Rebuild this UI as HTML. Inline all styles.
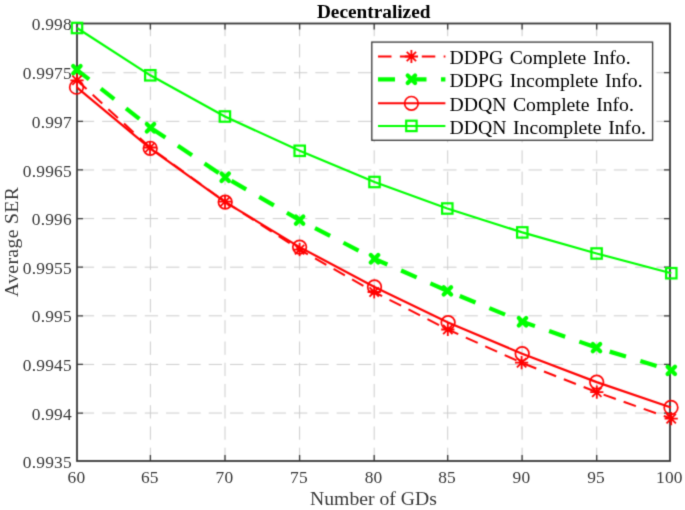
<!DOCTYPE html>
<html><head><meta charset="utf-8"><style>
html,body{margin:0;padding:0;background:#fff;width:685px;height:510px;overflow:hidden}
svg{display:block}

text{font-family:"Liberation Serif",serif}
</style></head><body>
<div id="w"><svg width="685" height="510" viewBox="0 0 685 510"><defs><filter id="bl" filterUnits="userSpaceOnUse" x="0" y="0" width="685" height="510" color-interpolation-filters="sRGB"><feConvolveMatrix order="3" kernelMatrix="1 4 1 4 16 4 1 4 1" divisor="36" edgeMode="duplicate"/></filter><filter id="bt" filterUnits="userSpaceOnUse" x="0" y="0" width="685" height="510" color-interpolation-filters="sRGB"><feConvolveMatrix order="3" kernelMatrix="1 6 1 6 36 6 1 6 1" divisor="64" edgeMode="none"/></filter></defs><g filter="url(#bl)"><rect width="685" height="510" fill="#fff"/><g stroke="#cccccc" stroke-width="1.0" stroke-dasharray="13.3 8.02" fill="none"><line x1="77" y1="72.72" x2="670.0" y2="72.72" stroke-dashoffset="-3.8"/><line x1="77" y1="121.34" x2="670.0" y2="121.34" stroke-dashoffset="-3.8"/><line x1="77" y1="169.96" x2="670.0" y2="169.96" stroke-dashoffset="-3.8"/><line x1="77" y1="218.58" x2="670.0" y2="218.58" stroke-dashoffset="-3.8"/><line x1="77" y1="267.20" x2="670.0" y2="267.20" stroke-dashoffset="-3.8"/><line x1="77" y1="315.82" x2="670.0" y2="315.82" stroke-dashoffset="-3.8"/><line x1="77" y1="364.44" x2="670.0" y2="364.44" stroke-dashoffset="-3.8"/><line x1="77" y1="413.06" x2="670.0" y2="413.06" stroke-dashoffset="-3.8"/><line x1="150.40" y1="461.0" x2="150.40" y2="23.5" stroke-dashoffset="0" stroke-dasharray="13.3 7.94"/><line x1="225.00" y1="461.0" x2="225.00" y2="23.5" stroke-dashoffset="0" stroke-dasharray="13.3 7.94"/><line x1="299.60" y1="461.0" x2="299.60" y2="23.5" stroke-dashoffset="0" stroke-dasharray="13.3 7.94"/><line x1="374.20" y1="461.0" x2="374.20" y2="23.5" stroke-dashoffset="0" stroke-dasharray="13.3 7.94"/><line x1="447.70" y1="461.0" x2="447.70" y2="23.5" stroke-dashoffset="0" stroke-dasharray="13.3 7.94"/><line x1="522.10" y1="461.0" x2="522.10" y2="23.5" stroke-dashoffset="0" stroke-dasharray="13.3 7.94"/><line x1="596.70" y1="461.0" x2="596.70" y2="23.5" stroke-dashoffset="0" stroke-dasharray="13.3 7.94"/></g><path d="M150.40,461.0V455.0M150.40,23.5V29.5M225.00,461.0V455.0M225.00,23.5V29.5M299.60,461.0V455.0M299.60,23.5V29.5M374.20,461.0V455.0M374.20,23.5V29.5M447.70,461.0V455.0M447.70,23.5V29.5M522.10,461.0V455.0M522.10,23.5V29.5M596.70,461.0V455.0M596.70,23.5V29.5M77,72.72H83M670.0,72.72H664.0M77,121.34H83M670.0,121.34H664.0M77,169.96H83M670.0,169.96H664.0M77,218.58H83M670.0,218.58H664.0M77,267.20H83M670.0,267.20H664.0M77,315.82H83M670.0,315.82H664.0M77,364.44H83M670.0,364.44H664.0M77,413.06H83M670.0,413.06H664.0" stroke="#363636" stroke-width="1.3" fill="none"/><rect x="77" y="23.5" width="593.00" height="437.50" stroke="#363636" stroke-width="1.8" fill="none"/><polyline points="77.00,28.00 150.30,75.30 224.90,116.50 299.70,150.80 374.50,182.00 447.30,208.50 522.30,232.40 596.60,253.50 671.30,273.20" stroke="#00ff00" stroke-width="2.2" fill="none"/><polyline points="76.90,69.80 150.50,127.70 225.20,177.30 299.60,220.10 374.50,258.80 447.40,290.90 522.50,321.80 596.50,347.60 671.30,370.40" stroke="#00ff00" stroke-width="4.2" fill="none" stroke-dasharray="17 15" stroke-dashoffset="1.5"/><polyline points="76.50,87.20 150.20,148.30 225.20,202.10 299.60,247.10 374.50,287.00 448.10,322.60 522.20,353.70 596.70,382.10 671.00,407.50" stroke="#ff0000" stroke-width="2.2" fill="none"/><polyline points="77.00,80.30 150.00,147.50 225.00,201.70 299.60,249.60 374.20,292.00 447.80,329.50 521.60,362.70 596.80,392.20 671.20,418.60" stroke="#ff0000" stroke-width="2" fill="none" stroke-dasharray="13 8.3"/><rect x="71.80" y="22.80" width="10.4" height="10.4" stroke="#00ff00" stroke-width="2.2" fill="none"/><rect x="145.10" y="70.10" width="10.4" height="10.4" stroke="#00ff00" stroke-width="2.2" fill="none"/><rect x="219.70" y="111.30" width="10.4" height="10.4" stroke="#00ff00" stroke-width="2.2" fill="none"/><rect x="294.50" y="145.60" width="10.4" height="10.4" stroke="#00ff00" stroke-width="2.2" fill="none"/><rect x="369.30" y="176.80" width="10.4" height="10.4" stroke="#00ff00" stroke-width="2.2" fill="none"/><rect x="442.10" y="203.30" width="10.4" height="10.4" stroke="#00ff00" stroke-width="2.2" fill="none"/><rect x="517.10" y="227.20" width="10.4" height="10.4" stroke="#00ff00" stroke-width="2.2" fill="none"/><rect x="591.40" y="248.30" width="10.4" height="10.4" stroke="#00ff00" stroke-width="2.2" fill="none"/><rect x="666.10" y="268.00" width="10.4" height="10.4" stroke="#00ff00" stroke-width="2.2" fill="none"/><path d="M73.20,66.10L80.60,73.50M73.20,73.50L80.60,66.10" stroke="#00ff00" stroke-width="4.2" fill="none" stroke-linecap="round"/><path d="M146.80,124.00L154.20,131.40M146.80,131.40L154.20,124.00" stroke="#00ff00" stroke-width="4.2" fill="none" stroke-linecap="round"/><path d="M221.50,173.60L228.90,181.00M221.50,181.00L228.90,173.60" stroke="#00ff00" stroke-width="4.2" fill="none" stroke-linecap="round"/><path d="M295.90,216.40L303.30,223.80M295.90,223.80L303.30,216.40" stroke="#00ff00" stroke-width="4.2" fill="none" stroke-linecap="round"/><path d="M370.80,255.10L378.20,262.50M370.80,262.50L378.20,255.10" stroke="#00ff00" stroke-width="4.2" fill="none" stroke-linecap="round"/><path d="M443.70,287.20L451.10,294.60M443.70,294.60L451.10,287.20" stroke="#00ff00" stroke-width="4.2" fill="none" stroke-linecap="round"/><path d="M518.80,318.10L526.20,325.50M518.80,325.50L526.20,318.10" stroke="#00ff00" stroke-width="4.2" fill="none" stroke-linecap="round"/><path d="M592.80,343.90L600.20,351.30M592.80,351.30L600.20,343.90" stroke="#00ff00" stroke-width="4.2" fill="none" stroke-linecap="round"/><path d="M667.60,366.70L675.00,374.10M667.60,374.10L675.00,366.70" stroke="#00ff00" stroke-width="4.2" fill="none" stroke-linecap="round"/><circle cx="76.50" cy="87.20" r="6.8" stroke="#ff0000" stroke-width="1.7" fill="none"/><circle cx="150.20" cy="148.30" r="6.8" stroke="#ff0000" stroke-width="1.7" fill="none"/><circle cx="225.20" cy="202.10" r="6.8" stroke="#ff0000" stroke-width="1.7" fill="none"/><circle cx="299.60" cy="247.10" r="6.8" stroke="#ff0000" stroke-width="1.7" fill="none"/><circle cx="374.50" cy="287.00" r="6.8" stroke="#ff0000" stroke-width="1.7" fill="none"/><circle cx="448.10" cy="322.60" r="6.8" stroke="#ff0000" stroke-width="1.7" fill="none"/><circle cx="522.20" cy="353.70" r="6.8" stroke="#ff0000" stroke-width="1.7" fill="none"/><circle cx="596.70" cy="382.10" r="6.8" stroke="#ff0000" stroke-width="1.7" fill="none"/><circle cx="671.00" cy="407.50" r="6.8" stroke="#ff0000" stroke-width="1.7" fill="none"/><path d="M70.40,80.30L83.60,80.30M72.33,75.63L81.67,84.97M77.00,73.70L77.00,86.90M81.67,75.63L72.33,84.97" stroke="#ff0000" stroke-width="1.8" fill="none"/><path d="M143.40,147.50L156.60,147.50M145.33,142.83L154.67,152.17M150.00,140.90L150.00,154.10M154.67,142.83L145.33,152.17" stroke="#ff0000" stroke-width="1.8" fill="none"/><path d="M218.40,201.70L231.60,201.70M220.33,197.03L229.67,206.37M225.00,195.10L225.00,208.30M229.67,197.03L220.33,206.37" stroke="#ff0000" stroke-width="1.8" fill="none"/><path d="M293.00,249.60L306.20,249.60M294.93,244.93L304.27,254.27M299.60,243.00L299.60,256.20M304.27,244.93L294.93,254.27" stroke="#ff0000" stroke-width="1.8" fill="none"/><path d="M367.60,292.00L380.80,292.00M369.53,287.33L378.87,296.67M374.20,285.40L374.20,298.60M378.87,287.33L369.53,296.67" stroke="#ff0000" stroke-width="1.8" fill="none"/><path d="M441.20,329.50L454.40,329.50M443.13,324.83L452.47,334.17M447.80,322.90L447.80,336.10M452.47,324.83L443.13,334.17" stroke="#ff0000" stroke-width="1.8" fill="none"/><path d="M515.00,362.70L528.20,362.70M516.93,358.03L526.27,367.37M521.60,356.10L521.60,369.30M526.27,358.03L516.93,367.37" stroke="#ff0000" stroke-width="1.8" fill="none"/><path d="M590.20,392.20L603.40,392.20M592.13,387.53L601.47,396.87M596.80,385.60L596.80,398.80M601.47,387.53L592.13,396.87" stroke="#ff0000" stroke-width="1.8" fill="none"/><path d="M664.60,418.60L677.80,418.60M666.53,413.93L675.87,423.27M671.20,412.00L671.20,425.20M675.87,413.93L666.53,423.27" stroke="#ff0000" stroke-width="1.8" fill="none"/><rect x="371.8" y="42.1" width="280.80" height="98.20" fill="#fff" stroke="#363636" stroke-width="1.3"/><line x1="378" y1="56.5" x2="445.4" y2="56.5" stroke="#ff0000" stroke-width="2" stroke-dasharray="13.5 8.4"/><path d="M404.80,56.50L418.00,56.50M406.73,51.83L416.07,61.17M411.40,49.90L411.40,63.10M416.07,51.83L406.73,61.17" stroke="#ff0000" stroke-width="1.8" fill="none"/><line x1="378" y1="79.3" x2="445.4" y2="79.3" stroke="#00ff00" stroke-width="4.2" stroke-dasharray="17 14.5"/><path d="M407.70,75.60L415.10,83.00M407.70,83.00L415.10,75.60" stroke="#00ff00" stroke-width="4.2" fill="none" stroke-linecap="round"/><line x1="378" y1="103.3" x2="445.4" y2="103.3" stroke="#ff0000" stroke-width="2"/><circle cx="411.40" cy="103.30" r="6.8" stroke="#ff0000" stroke-width="1.7" fill="none"/><line x1="378" y1="125.9" x2="445.4" y2="125.9" stroke="#00ff00" stroke-width="2"/><rect x="406.20" y="120.70" width="10.4" height="10.4" stroke="#00ff00" stroke-width="2.2" fill="none"/></g><g filter="url(#bt)"><g font-family="Liberation Serif" font-size="17.4" fill="#3a3a3a" letter-spacing="0.2"><text x="71.9" y="30.10" text-anchor="end">0.998</text><text x="71.9" y="79.32" text-anchor="end">0.9975</text><text x="71.9" y="127.94" text-anchor="end">0.997</text><text x="71.9" y="176.56" text-anchor="end">0.9965</text><text x="71.9" y="225.18" text-anchor="end">0.996</text><text x="71.9" y="273.80" text-anchor="end">0.9955</text><text x="71.9" y="322.42" text-anchor="end">0.995</text><text x="71.9" y="371.04" text-anchor="end">0.9945</text><text x="71.9" y="419.66" text-anchor="end">0.994</text><text x="71.9" y="467.60" text-anchor="end">0.9935</text><text x="76.40" y="482.8" text-anchor="middle">60</text><text x="149.80" y="482.8" text-anchor="middle">65</text><text x="224.40" y="482.8" text-anchor="middle">70</text><text x="299.00" y="482.8" text-anchor="middle">75</text><text x="373.60" y="482.8" text-anchor="middle">80</text><text x="447.10" y="482.8" text-anchor="middle">85</text><text x="521.50" y="482.8" text-anchor="middle">90</text><text x="596.10" y="482.8" text-anchor="middle">95</text><text x="669.40" y="482.8" text-anchor="middle">100</text></g><text x="373.5" y="504.5" text-anchor="middle" font-family="Liberation Serif" font-size="19.7" fill="#3a3a3a">Number of GDs</text><text transform="translate(18,241.9) rotate(-90)" x="0" y="0" text-anchor="middle" font-family="Liberation Serif" font-size="19.7" fill="#3a3a3a" letter-spacing="0.35">Average SER</text><text x="373.7" y="17.7" text-anchor="middle" font-family="Liberation Serif" font-weight="bold" font-size="19.3" fill="#000">Decentralized</text><g font-family="Liberation Serif" font-size="19.7" fill="#000" word-spacing="1.7"><text x="449.5" y="63.90">DDPG Complete Info.</text><text x="449.5" y="87.20">DDPG Incomplete Info.</text><text x="449.5" y="110.70">DDQN Complete Info.</text><text x="449.5" y="134.20">DDQN Incomplete Info.</text></g></g></svg></div>
</body></html>
